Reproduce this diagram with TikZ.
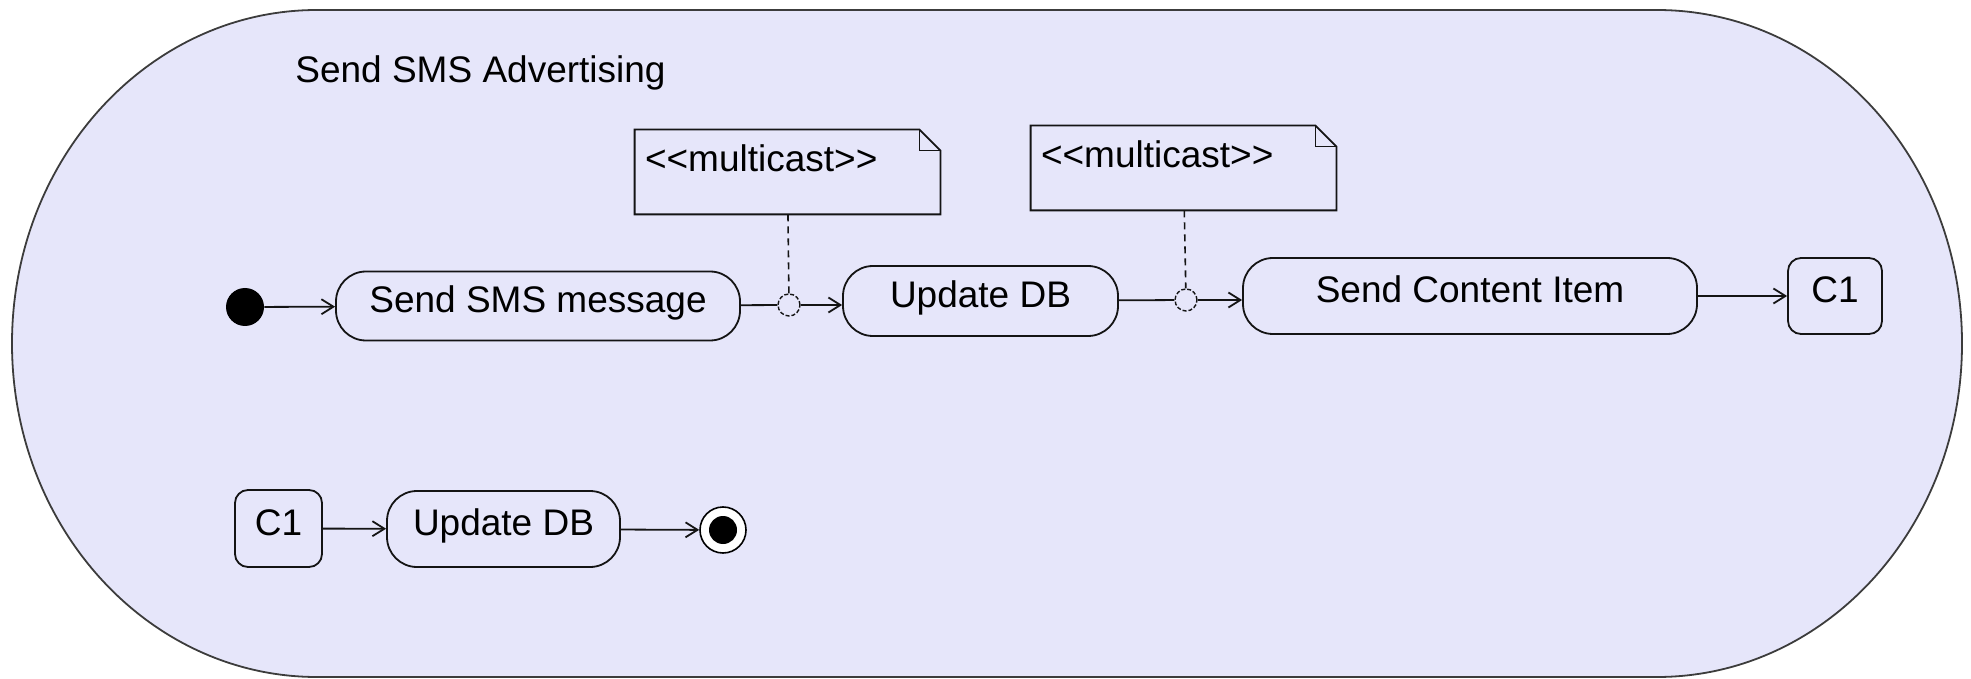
\documentclass[tikz,border=0pt]{standalone}
\usepackage{fontspec}
\setmainfont{Liberation Sans}
\usetikzlibrary{arrows.meta}
\definecolor{lav}{RGB}{230,230,250}
\definecolor{ink}{RGB}{20,20,20}
\definecolor{framegray}{RGB}{60,60,60}
\newcommand\diagfont{\fontsize{18.5pt}{22pt}\selectfont}

\begin{document}
\begin{tikzpicture}[x=0.5pt,y=-0.5pt,
  line/.style={draw=ink,line width=0.9pt},
  flow/.style={line,-{Straight Barb[length=6pt,width=7.5pt]}},
  activity/.style={line,fill=lav,rectangle,rounded corners=15pt,inner sep=0pt,
    font=\diagfont,text height=13pt,text depth=6.5pt},
  connector/.style={line,fill=lav,rectangle,rounded corners=6.5pt,inner sep=0pt,
    font=\diagfont,text height=13pt,text depth=6.5pt},
  notebox/.style={rectangle,inner xsep=5pt,inner ysep=0pt,text width=142.5pt,
    align=left,text height=21pt,text depth=21pt,font=\diagfont},
  junction/.style={circle,draw=ink,line width=0.7pt,dash pattern=on 2pt off 1pt,
    fill=lav,minimum size=11pt,inner sep=0pt},
  anchorlink/.style={draw=ink,line width=0.8pt,dash pattern=on 3.5pt off 2.5pt},
  startnode/.style={circle,fill=black,minimum size=19pt,inner sep=0pt},
  endnode/.style={circle,draw=black,line width=0.8pt,fill=white,minimum size=23pt,
    inner sep=0pt,path picture={\fill[black] (path picture bounding box.center) circle (7pt);}}
]
\useasboundingbox (0,0) rectangle (1971,679);

% activity frame with elliptical ends
\draw[draw=framegray,line width=0.9pt,fill=lav]
  (317,10) -- (1657,10)
  arc[start angle=90,end angle=-90,x radius=152.5pt,y radius=166.75pt]
  -- (317,677)
  arc[start angle=-90,end angle=-270,x radius=152.5pt,y radius=166.75pt]
  -- cycle;

\node[anchor=base west,font=\diagfont,inner sep=0pt] (title) at (295,83) {Send SMS Advertising};

% main flow
\node[startnode] (init) at (245,307) {};
\node[activity,minimum width=202pt,minimum height=34.5pt] (sms) at (538,306) {Send SMS message};
\node[junction] (j1) at (789,305) {};
\node[activity,minimum width=137.5pt,minimum height=35pt] (upd1) at (980.5,301) {Update DB};
\node[junction] (j2) at (1186,300) {};
\node[activity,minimum width=227pt,minimum height=38pt] (sci) at (1470,296) {Send Content Item};
\node[connector,minimum width=47pt,minimum height=38pt] (c1a) at (1835,296) {C1};

% notes
\node[notebox] (n1) at (787.5,172) {<{}<multicast>{}>};
\node[notebox] (n2) at (1183.5,168) {<{}<multicast>{}>};
\foreach \n in {n1,n2} {
  \draw[line] (\n.south west) -- (\n.north west) -- ([xshift=-10.5pt]\n.north east)
    -- ([yshift=-10.5pt]\n.north east) -- (\n.south east) -- cycle;
  \draw[line] ([xshift=-10.5pt]\n.north east) |- ([yshift=-10.5pt]\n.north east);
}

% continuation flow
\node[connector,minimum width=43.5pt,minimum height=38.5pt] (c1b) at (278.5,528.5) {C1};
\node[activity,minimum width=116.5pt,minimum height=38pt] (upd2) at (503.5,529) {Update DB};
\node[endnode] (final) at (723,530) {};

% transitions
\draw[flow] (init) -- (sms);
\draw[line] (sms) -- (j1);
\draw[flow] (j1.east) -- (j1.east -| upd1.west);
\draw[line] (upd1) -- (j2);
\draw[flow] (j2.east) -- (j2.east -| sci.west);
\draw[flow] (sci) -- (c1a);
\draw[flow] (c1b) -- (upd2);
\draw[flow] (upd2) -- (final);

% note attachments
\draw[anchorlink] (n1) -- (j1);
\draw[anchorlink] (n2) -- (j2);
\end{tikzpicture}
\end{document}
